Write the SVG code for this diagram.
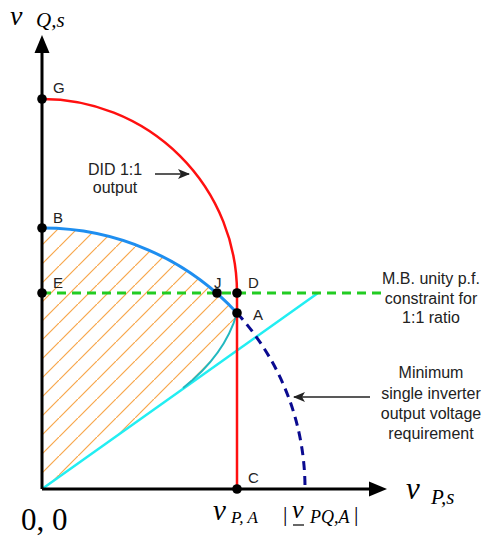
<svg xmlns="http://www.w3.org/2000/svg" width="495" height="538" viewBox="0 0 495 538">
<style>
.lbl{font-family:"Liberation Sans",Arial,sans-serif;font-size:15px;fill:#222}
.note{font-family:"Liberation Sans",Arial,sans-serif;font-size:16px;fill:#222;text-anchor:middle}
.math{font-family:"Liberation Serif","Times New Roman",serif;font-style:italic;fill:#000}
.dot{fill:#000}
</style>
<defs>
<pattern id="hatch" patternUnits="userSpaceOnUse" x="2" y="0" width="19" height="19">
<path d="M-1,20 L20,-1" stroke="#f7a64a" stroke-width="1.2"/>
</pattern>
<clipPath id="region">
<path d="M42,489 L42,228 A263,261 0 0 1 237,313 Q225,355 183,388 Z"/>
</clipPath>
<marker id="ah" viewBox="0 0 12 10" refX="11" refY="5" markerWidth="12" markerHeight="10" markerUnits="userSpaceOnUse" orient="auto">
<path d="M0,0 L12,5 L0,10 L3,5 Z" fill="#222"/>
</marker>
</defs>

<g id="hatch-region">
<rect x="0" y="0" width="495" height="538" fill="url(#hatch)" clip-path="url(#region)"/>
</g>

<g id="connectors" fill="none">
<path id="cyan-line" d="M42,489 L318,293" stroke="#22eef2" stroke-width="2.5"/>
<path id="teal-curve" d="M183,388 Q225,355 237,313" stroke="#22b8c0" stroke-width="2"/>
<path id="green-line" d="M42,293 L384,293" stroke="#22cc22" stroke-width="3" stroke-dasharray="9,6"/>
<path id="blue-arc" d="M42,228 A263,261 0 0 1 237,313" stroke="#1e8ef0" stroke-width="3"/>
<path id="red-curve" d="M42,99 A195,194 0 0 1 237,293 L237,489" stroke="#ff1010" stroke-width="2.5"/>
<path id="navy-arc" d="M237,313 A263,261 0 0 1 305,489" stroke="#0a0a90" stroke-width="3" stroke-dasharray="9,6"/>
<path id="did-arrow" d="M155,174 L189,174" stroke="#222" stroke-width="1.5" marker-end="url(#ah)"/>
<path id="min-arrow" d="M370,397 L294,397" stroke="#222" stroke-width="1.5" marker-end="url(#ah)"/>
</g>

<g id="axes">
<path d="M42,489 L42,50" stroke="#000" stroke-width="3" fill="none"/>
<path d="M42,35 L49.5,53 L34.5,53 Z" fill="#000"/>
<path d="M42,489 L372,489" stroke="#000" stroke-width="3" fill="none"/>
<path d="M387,489 L369,481.5 L369,496.5 Z" fill="#000"/>
</g>

<g id="G"><circle class="dot" cx="42" cy="99" r="4.8"/><text class="lbl" x="53" y="93">G</text></g>
<g id="B"><circle class="dot" cx="42" cy="228" r="4.8"/><text class="lbl" x="53" y="223">B</text></g>
<g id="E"><circle class="dot" cx="42" cy="293" r="4.8"/><text class="lbl" x="53" y="288">E</text></g>
<g id="J"><circle class="dot" cx="217" cy="293" r="4.8"/><text class="lbl" x="214" y="288">J</text></g>
<g id="D"><circle class="dot" cx="237" cy="293" r="4.8"/><text class="lbl" x="248" y="288">D</text></g>
<g id="A"><circle class="dot" cx="237" cy="313" r="4.8"/><text class="lbl" x="253" y="320">A</text></g>
<g id="C"><circle class="dot" cx="237" cy="489" r="4.8"/><text class="lbl" x="248" y="483">C</text></g>

<g id="did-label">
<text class="note" x="115" y="175">DID 1:1</text>
<text class="note" x="115" y="193">output</text>
</g>
<g id="mb-label">
<text class="note" x="431" y="284">M.B. unity p.f.</text>
<text class="note" x="431" y="304">constraint for</text>
<text class="note" x="431" y="323">1:1 ratio</text>
</g>
<g id="min-label">
<text class="note" x="431" y="378">Minimum</text>
<text class="note" x="431" y="399">single inverter</text>
<text class="note" x="431" y="419">output voltage</text>
<text class="note" x="431" y="439">requirement</text>
</g>

<g id="axis-labels">
<text class="math" x="10" y="25" font-size="28">v</text>
<text class="math" x="36" y="27" font-size="21">Q,s</text>
<text class="math" x="406" y="499" font-size="31">v</text>
<text class="math" x="431" y="504" font-size="21">P,s</text>
<text x="21" y="530" font-family="'Liberation Serif','Times New Roman',serif" font-size="31" fill="#000">0, 0</text>
<text class="math" x="213" y="520" font-size="29">v</text>
<text class="math" x="231" y="523" font-size="17">P, A</text>
<text x="283" y="521" font-family="'Liberation Serif','Times New Roman',serif" font-size="22" fill="#000">|</text>
<text class="math" x="292" y="518" font-size="26">v</text>
<path d="M293,525 L304,525" stroke="#000" stroke-width="1.2"/>
<text class="math" x="310" y="523" font-size="18">PQ,A</text>
<text x="354" y="521" font-family="'Liberation Serif','Times New Roman',serif" font-size="22" fill="#000">|</text>
</g>
</svg>
